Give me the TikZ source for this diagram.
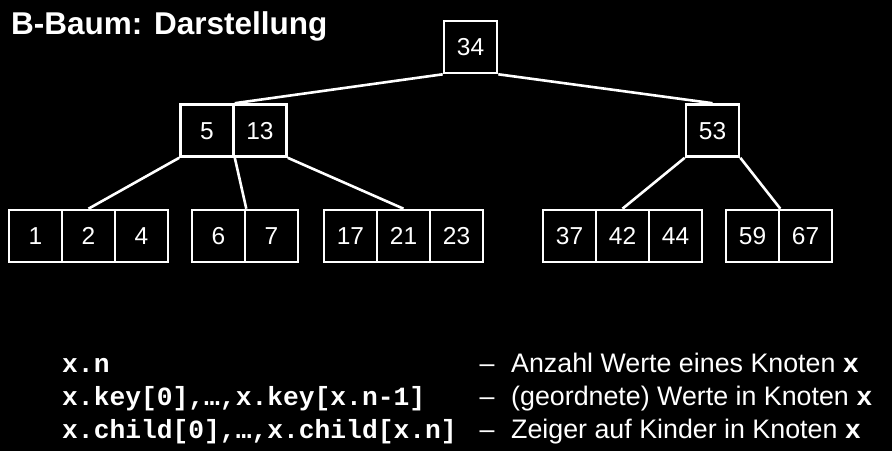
\documentclass[tikz,border=0pt]{standalone}
\usepackage{fontspec}
\setmainfont{Liberation Sans}
\setmonofont{Liberation Mono}
\begin{document}
\begin{tikzpicture}[x=1pt,y=-1pt,
  cell/.style={draw=white,line width=2.6pt,minimum width=53pt,minimum height=52pt,
    inner sep=0pt,text height=17.5pt,text depth=0pt,text=white,
    font=\fontsize{24.5}{28}\selectfont},
  edge/.style={draw=white,line width=2.6pt},
  label/.style={text=white,inner sep=0pt,anchor=base west},
  code/.style={label,font=\fontsize{26.3}{30}\selectfont\ttfamily\bfseries},
  prose/.style={label,font=\fontsize{26.8}{30}\selectfont}]
% background
\fill[black] (0,0) rectangle (892,451);
\useasboundingbox (0,0) rectangle (892,451);

% title
\node[label,font=\fontsize{31.5}{36}\selectfont\bfseries] (title) at (11,34) {B-Baum: Darstellung};

% root
\node[cell] (k34) at (470.5,47) {34};

% inner level
\node[cell] (k5)  at (207,130.5) {5};
\node[cell] (k13) at (260,130.5) {13};
\node[cell] (k53) at (712.5,130.5) {53};

% leaves
\node[cell] (k1)  at (35.5,236) {1};
\node[cell] (k2)  at (88.5,236) {2};
\node[cell] (k4)  at (141.5,236) {4};
\node[cell] (k6)  at (218.5,236) {6};
\node[cell] (k7)  at (271.5,236) {7};
\node[cell] (k17) at (350.5,236) {17};
\node[cell] (k21) at (403.5,236) {21};
\node[cell] (k23) at (456.5,236) {23};
\node[cell] (k37) at (569.5,236) {37};
\node[cell] (k42) at (622.5,236) {42};
\node[cell] (k44) at (675.5,236) {44};
\node[cell] (k59) at (752.5,236) {59};
\node[cell] (k67) at (805.5,236) {67};

% child pointers
\draw[edge] (k34.south west) -- (k5.north east);
\draw[edge] (k34.south east) -- (k53.north);
\draw[edge] (k5.south west) -- (k2.north);
\draw[edge] (k5.south east) -- (k6.north east);
\draw[edge] (k13.south east) -- (k21.north);
\draw[edge] (k53.south west) -- (k42.north);
\draw[edge] (k53.south east) -- (k59.north east);

% legend
\node[code] (c1) at (62,372) {x.n};
\node[code] (c2) at (62,405) {x.key[0],…,x.key[x.n-1]};
\node[code] (c3) at (62,438) {x.child[0],…,x.child[x.n]};
\node[prose,anchor=base] (d1) at (487,372) {–};
\node[prose,anchor=base] (d2) at (487,405) {–};
\node[prose,anchor=base] (d3) at (487,438) {–};
\node[prose] (t1) at (511,372) {Anzahl Werte eines Knoten {\ttfamily\bfseries x}};
\node[prose] (t2) at (511,405) {(geordnete) Werte in Knoten {\ttfamily\bfseries x}};
\node[prose] (t3) at (511,438) {Zeiger auf Kinder in Knoten {\ttfamily\bfseries x}};
\end{tikzpicture}
\end{document}
